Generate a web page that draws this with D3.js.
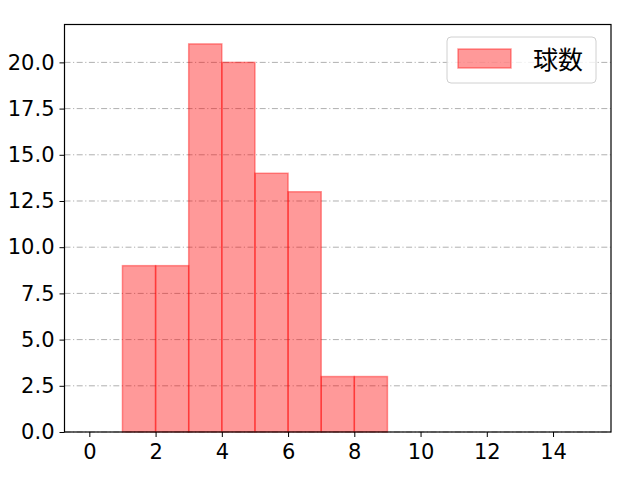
<!DOCTYPE html>
<html>
<head>
<meta charset="utf-8">
<script src="https://cdn.jsdelivr.net/npm/d3@7"></script>
<style>
  body { margin: 0; background: #fff; }
  text { font-family: "Noto Sans CJK JP", "DejaVu Sans", sans-serif; }
</style>
</head>
<body>
<svg id="chart"></svg>
<script>
// histogram bins (left edge) and counts
const binEdges = [0, 1, 2, 3, 4, 5, 6, 7, 8, 9, 10, 11, 12, 13, 14, 15];
const counts = [0, 9, 9, 21, 20, 14, 13, 3, 3, 0, 0, 0, 0, 0, 0];
const xTicks = [0, 2, 4, 6, 8, 10, 12, 14];
const yTicks = [0, 2.5, 5, 7.5, 10, 12.5, 15, 17.5, 20];
const seriesName = "球数";

const width = 640, height = 480;
const margin = { top: 24.5, right: 29, bottom: 48, left: 64.5 };
const plotWidth = width - margin.left - margin.right;
const plotHeight = height - margin.top - margin.bottom;

const svg = d3.select("#chart").attr("width", width).attr("height", height);
const g = svg.append("g").attr("transform", `translate(${margin.left},${margin.top})`);

const x = d3.scaleLinear().domain([-0.75, 15.75]).range([0, plotWidth]);
const y = d3.scaleLinear().domain([0, 22.05]).range([plotHeight, 0]);

// grid lines (horizontal, dash-dot)
g.selectAll(".grid").data(yTicks).enter().append("line")
  .attr("x1", 0).attr("x2", plotWidth)
  .attr("y1", d => y(d)).attr("y2", d => y(d))
  .attr("stroke", "#b0b0b0").attr("stroke-width", 1)
  .attr("stroke-dasharray", "6,2.5,1.2,2.5");

// bars
const bins = counts.map((c, i) => ({ x0: binEdges[i], x1: binEdges[i + 1], c }));
g.selectAll(".bar").data(bins.filter(d => d.c > 0)).enter().append("rect")
  .attr("x", d => x(d.x0))
  .attr("y", d => y(d.c))
  .attr("width", d => x(d.x1) - x(d.x0))
  .attr("height", d => y(0) - y(d.c))
  .attr("fill", "red").attr("fill-opacity", 0.4)
  .attr("stroke", "red").attr("stroke-opacity", 0.4).attr("stroke-width", 1.5);

// axes
const xAxis = g.append("g").attr("transform", `translate(0,${plotHeight})`)
  .call(d3.axisBottom(x).tickValues(xTicks).tickFormat(d3.format("d")).tickSize(5).tickPadding(7));
const yAxis = g.append("g")
  .call(d3.axisLeft(y).tickValues(yTicks).tickFormat(d3.format(".1f")).tickSize(5).tickPadding(5));
[xAxis, yAxis].forEach(a => {
  a.attr("font-size", null).attr("font-family", null);
  a.select(".domain").remove();
  a.selectAll("line").attr("stroke", "#000").attr("stroke-width", 1);
  a.selectAll("text").attr("fill", "#000")
    .style("font-size", "21px")
    .style("font-family", '"DejaVu Sans", sans-serif');
});

// frame
g.append("rect").attr("x", 0).attr("y", 0).attr("width", plotWidth).attr("height", plotHeight)
  .attr("fill", "none").attr("stroke", "#000").attr("stroke-width", 1.2);

// legend
const lg = svg.append("g").attr("transform", "translate(447,37)");
lg.append("rect").attr("width", 149).attr("height", 46).attr("rx", 4)
  .attr("fill", "#fff").attr("fill-opacity", 0.8).attr("stroke", "#d0d0d0");
lg.append("rect").attr("x", 11).attr("y", 12).attr("width", 53).attr("height", 19)
  .attr("fill", "red").attr("fill-opacity", 0.4)
  .attr("stroke", "red").attr("stroke-opacity", 0.4).attr("stroke-width", 1.5);
lg.append("text").attr("x", 86).attr("y", 32).style("font-size", "25px").attr("fill", "#000")
  .text(seriesName);
</script>
</body>
</html>
